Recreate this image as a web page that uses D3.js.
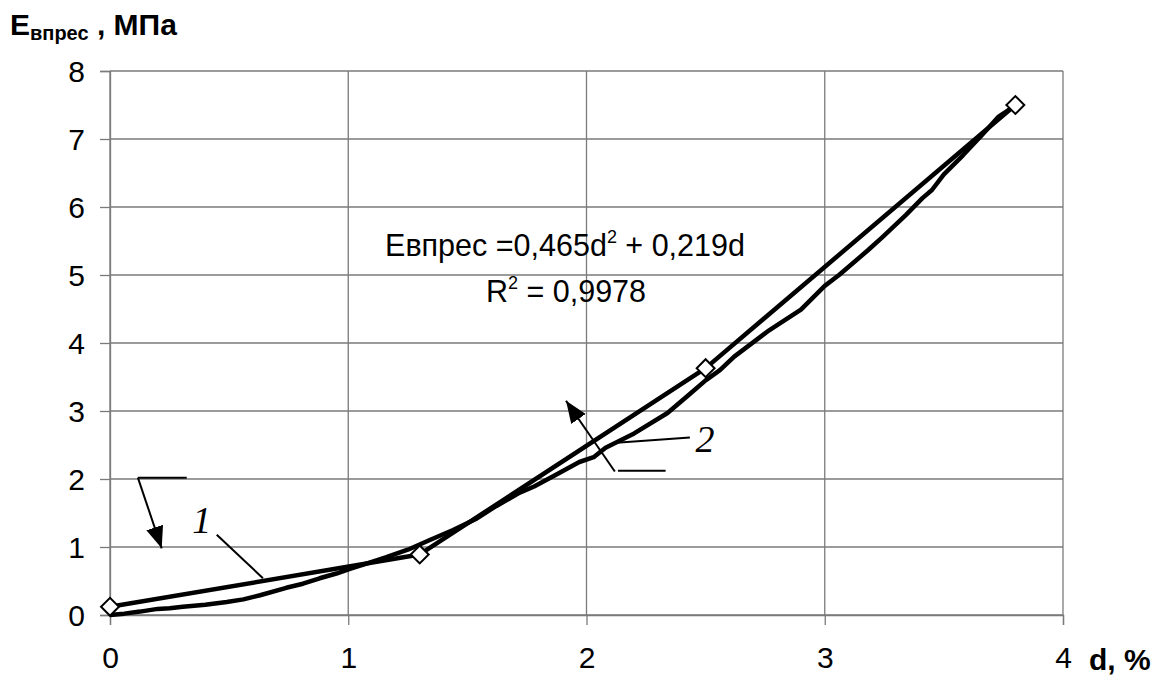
<!DOCTYPE html>
<html><head><meta charset="utf-8">
<script src="https://cdn.jsdelivr.net/npm/d3@7/dist/d3.min.js"></script>
<style>body{margin:0;background:#fff}svg{display:block}</style>
</head><body>
<svg id="chart" width="1161" height="678"></svg>
<script>
// ---- data ----
const xTicks = [0, 1, 2, 3, 4];
const yTicks = [0, 1, 2, 3, 4, 5, 6, 7, 8];
// series 1: measured points (diamonds) joined by straight segments
const series1D = [0, 1.3, 2.5, 3.8];
const series1E = [0.12, 0.89, 3.63, 7.5];
// series 2: continuous (wavy) curve
const series2D = [0, 0.06, 0.126, 0.2, 0.25, 0.306, 0.4, 0.49, 0.56, 0.63, 0.74, 0.81, 0.88, 0.95, 1.007, 1.08, 1.16, 1.25, 1.34, 1.44, 1.54, 1.62, 1.72, 1.78, 1.87, 1.97, 2.03, 2.08, 2.20, 2.34, 2.43, 2.50, 2.56, 2.62, 2.76, 2.90, 2.96, 3.00, 3.06, 3.18, 3.24, 3.34, 3.41, 3.45, 3.50, 3.58, 3.66, 3.73, 3.79];
const series2E = [0, 0.02, 0.05, 0.09, 0.10, 0.12, 0.15, 0.19, 0.23, 0.29, 0.40, 0.46, 0.54, 0.61, 0.68, 0.76, 0.85, 0.96, 1.10, 1.25, 1.42, 1.60, 1.80, 1.89, 2.06, 2.25, 2.32, 2.46, 2.67, 2.97, 3.24, 3.45, 3.60, 3.80, 4.17, 4.49, 4.70, 4.84, 5.00, 5.36, 5.55, 5.88, 6.13, 6.25, 6.48, 6.76, 7.06, 7.33, 7.47];
const equationText = "Евпрес =0,465d";
const equationText2 = " + 0,219d";
const r2Text = " = 0,9978";

// ---- scales ----
const svg = d3.select("#chart");
const x = d3.scaleLinear().domain([0, 4]).range([110, 1063]);
const y = d3.scaleLinear().domain([0, 8]).range([615, 71]);
const FONT = "'Liberation Sans', Arial, sans-serif";
const GRID = "#7a7a7a";

// gridlines
svg.append("g").selectAll("line.h").data(yTicks).join("line")
  .attr("x1", x(0)).attr("x2", x(4)).attr("y1", d => y(d)).attr("y2", d => y(d))
  .attr("stroke", GRID).attr("stroke-width", 1.3);
svg.append("g").selectAll("line.v").data(xTicks).join("line")
  .attr("x1", d => x(d)).attr("x2", d => x(d)).attr("y1", y(0)).attr("y2", y(8))
  .attr("stroke", GRID).attr("stroke-width", 1.3);

// axes
const xAxis = svg.append("g").attr("transform", `translate(0,${y(0)})`)
  .call(d3.axisBottom(x).tickValues(xTicks).tickSize(10).tickPadding(22).tickFormat(d3.format("d")));
const yAxis = svg.append("g").attr("transform", `translate(${x(0)},0)`)
  .call(d3.axisLeft(y).tickValues(yTicks).tickSize(10).tickPadding(15).tickFormat(d3.format("d")));
[xAxis, yAxis].forEach(a => {
  a.select(".domain").attr("stroke", GRID).attr("stroke-width", 1.3);
  a.selectAll(".tick line").attr("stroke", GRID).attr("stroke-width", 1.3);
  a.selectAll(".tick text").attr("font-family", FONT).attr("font-size", 30).attr("fill", "#000");
});
yAxis.selectAll(".tick text").attr("dy", "0.36em");

// series lines
const line = d3.line().x(d => x(d[0])).y(d => y(d[1])).curve(d3.curveLinear);
const s2 = series2D.map((d, i) => [d, series2E[i]]);
const s1 = series1D.map((d, i) => [d, series1E[i]]);
svg.append("path").datum(s2).attr("d", line).attr("fill", "none")
  .attr("stroke", "#000").attr("stroke-width", 4.5).attr("stroke-linejoin", "round");
svg.append("path").datum(s1).attr("d", line).attr("fill", "none")
  .attr("stroke", "#000").attr("stroke-width", 4.5).attr("stroke-linejoin", "round");
svg.append("g").selectAll("path").data(s1).join("path")
  .attr("d", d3.symbol(d3.symbolSquare, 160))
  .attr("transform", d => `translate(${x(d[0])},${y(d[1])}) rotate(45)`)
  .attr("fill", "#fff").attr("stroke", "#000").attr("stroke-width", 2);

// equation
const eq = svg.append("text").attr("x", 565).attr("y", 256).attr("text-anchor", "middle")
  .attr("font-family", FONT).attr("font-size", 30.5).attr("fill", "#000");
eq.append("tspan").text(equationText);
eq.append("tspan").attr("font-size", 18).attr("dy", -13).text("2");
eq.append("tspan").attr("dy", 13).text(equationText2);
const r2 = svg.append("text").attr("x", 566).attr("y", 302).attr("text-anchor", "middle")
  .attr("font-family", FONT).attr("font-size", 30.5).attr("fill", "#000");
r2.append("tspan").text("R");
r2.append("tspan").attr("font-size", 18).attr("dy", -13).text("2");
r2.append("tspan").attr("dy", 13).text(r2Text);

// annotations (data units)
const annLines = [
  [[0.448, 1.18], [0.642, 0.54]],
  [[2.111, 2.53], [2.434, 2.61]],
  [[0.117, 2.02], [0.322, 2.02]],
  [[2.132, 2.12], [2.332, 2.12]]
];
const annArrows = [
  [[0.117, 2.02], [0.217, 0.98]],
  [[2.119, 2.11], [1.914, 3.15]]
];
const annLabels = [["1", 0.385, 1.40], ["2", 2.497, 2.60]];
svg.append("defs").append("marker").attr("id", "ah")
  .attr("viewBox", "0 0 10 10").attr("refX", 10).attr("refY", 5)
  .attr("markerWidth", 22).attr("markerHeight", 22).attr("markerUnits", "userSpaceOnUse")
  .attr("orient", "auto")
  .append("path").attr("d", "M0,1 L10,5 L0,9 Z").attr("fill", "#000");
svg.append("g").selectAll("line").data(annLines).join("line")
  .attr("x1", d => x(d[0][0])).attr("y1", d => y(d[0][1]))
  .attr("x2", d => x(d[1][0])).attr("y2", d => y(d[1][1]))
  .attr("stroke", "#000").attr("stroke-width", 2);
svg.append("g").selectAll("line").data(annArrows).join("line")
  .attr("x1", d => x(d[0][0])).attr("y1", d => y(d[0][1]))
  .attr("x2", d => x(d[1][0])).attr("y2", d => y(d[1][1]))
  .attr("stroke", "#000").attr("stroke-width", 2).attr("marker-end", "url(#ah)");
svg.append("g").selectAll("text").data(annLabels).join("text")
  .attr("x", d => x(d[1])).attr("y", d => y(d[2])).attr("dy", "0.35em")
  .attr("text-anchor", "middle").attr("font-family", "'Liberation Serif', 'Times New Roman', serif")
  .attr("font-style", "italic").attr("font-size", 38).attr("fill", "#000").text(d => d[0]);

// axis titles
const yt = svg.append("text").attr("x", 10).attr("y", 35)
  .attr("font-family", FONT).attr("font-weight", "bold").attr("font-size", 30).attr("fill", "#000");
yt.append("tspan").text("Е");
yt.append("tspan").attr("font-size", 20).attr("dy", 5).text("впрес");
yt.append("tspan").attr("dy", -5).text(" , МПа");
svg.append("text").attr("x", 1089).attr("y", 670)
  .attr("font-family", FONT).attr("font-weight", "bold").attr("font-size", 30).attr("fill", "#000")
  .text("d, %");
</script>
</body></html>
